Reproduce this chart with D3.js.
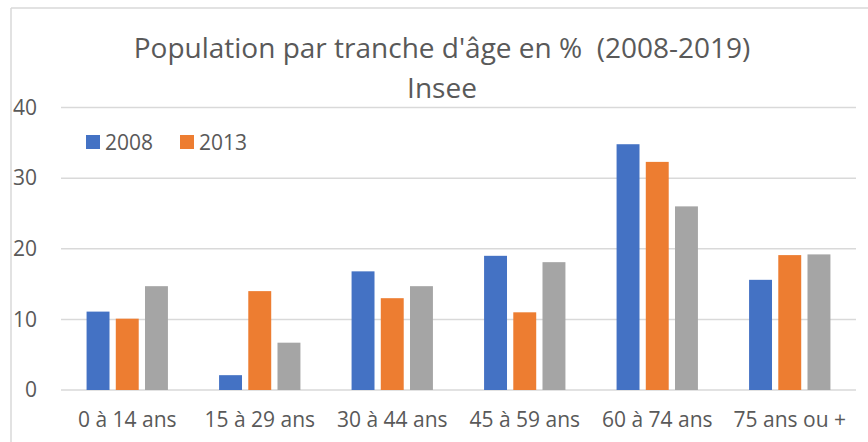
<!DOCTYPE html>
<html>
<head>
<meta charset="utf-8">
<script src="https://cdn.jsdelivr.net/npm/d3@7"></script>
<style>
  body { margin: 0; background: #fff; }
  text { font-family: "Open Sans", sans-serif; fill: #595959; white-space: pre; }
</style>
</head>
<body>
<svg id="chart" width="868" height="442"></svg>
<script>
// data
const categories = ["0 à 14 ans", "15 à 29 ans", "30 à 44 ans", "45 à 59 ans", "60 à 74 ans", "75 ans ou +"];
const seriesNames = ["2008", "2013", "2019"];
const values2008 = [11.1, 2.1, 16.8, 19.0, 34.8, 15.6];
const values2013 = [10.1, 14.0, 13.0, 11.0, 32.3, 19.1];
const values2019 = [14.7, 6.7, 14.7, 18.1, 26.0, 19.2];
const yTicks = [0, 10, 20, 30, 40];
const legendNames = ["2008", "2013"];
const colors = ["#4472C4", "#ED7D31", "#A5A5A5"];

const allValues = [values2008, values2013, values2019];

var svg = d3.select("#chart");

// frame (chart area border, cropped at right/bottom)
svg.append("line").attr("x1", 11).attr("x2", 11).attr("y1", 8).attr("y2", 442)
    .attr("stroke", "#D9D9D9").attr("stroke-width", 1.5);
svg.append("line").attr("x1", 11).attr("x2", 868).attr("y1", 8).attr("y2", 8)
    .attr("stroke", "#D9D9D9").attr("stroke-width", 1.5);

var y = d3.scaleLinear().domain([0, 40]).range([390, 107.5]);
var x0 = d3.scaleBand().domain(categories).range([61, 856]).paddingInner(0.386).paddingOuter(0.193);
var x1 = d3.scaleBand().domain(seriesNames).range([0, x0.bandwidth()]).paddingInner(0.215);

// gridlines
svg.append("g").selectAll("line")
    .data(yTicks)
    .enter().append("line")
    .attr("x1", 61).attr("x2", 856)
    .attr("y1", d => y(d)).attr("y2", d => y(d))
    .attr("stroke", "#D9D9D9").attr("stroke-width", 1.5);

// y axis labels
var yAxis = d3.axisLeft(y).tickValues(yTicks).tickSize(0).tickPadding(0);
var yg = svg.append("g").attr("transform", "translate(37,0)").call(yAxis);
yg.select(".domain").remove();
yg.selectAll("text").attr("font-size", 21).attr("fill", "#595959").attr("text-anchor", "end")
    .style("font-family", "'Open Sans', sans-serif");

// x axis labels
var xAxis = d3.axisBottom(x0).tickSize(0).tickPadding(0);
var xg = svg.append("g").attr("transform", "translate(0,412)").call(xAxis);
xg.select(".domain").remove();
xg.selectAll("text").attr("font-size", 21).attr("fill", "#595959")
    .style("font-family", "'Open Sans', sans-serif");

// bars
var groups = svg.append("g").selectAll("g")
    .data(categories)
    .enter().append("g")
    .attr("transform", d => `translate(${x0(d)},0)`);

groups.selectAll("rect")
    .data((d, i) => seriesNames.map((s, j) => ({ series: s, value: allValues[j][i], idx: j })))
    .enter().append("rect")
    .attr("x", d => x1(d.series))
    .attr("width", x1.bandwidth())
    .attr("y", d => y(d.value))
    .attr("height", d => y(0) - y(d.value))
    .attr("fill", d => colors[d.idx]);

// title
svg.append("text").attr("x", 442).attr("y", 58).attr("text-anchor", "middle")
    .attr("font-size", 28).text("Population par tranche d'âge en %  (2008-2019)");
svg.append("text").attr("x", 442).attr("y", 98).attr("text-anchor", "middle")
    .attr("font-size", 28).text("Insee");

// legend
var legend = svg.append("g").selectAll("g")
    .data(legendNames)
    .enter().append("g")
    .attr("transform", (d, i) => `translate(${86 + i * 94},135)`);
legend.append("rect").attr("width", 14).attr("height", 14).attr("fill", (d, i) => colors[i]);
legend.append("text").attr("x", 19).attr("y", 14.5).attr("font-size", 21).text(d => d);
</script>
</body>
</html>
